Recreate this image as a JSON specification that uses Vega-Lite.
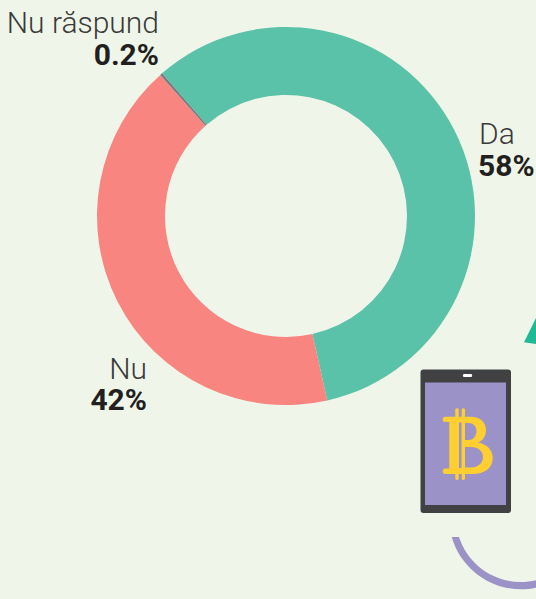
{"$schema":"https://vega.github.io/schema/vega-lite/v6.json","width":378,"height":378,"autosize":"none","padding":{"left":97,"top":27,"right":61,"bottom":194},"background":"#EFF6E9","config":{"view":{"stroke":null}},"data":{"values":[{"answer":"Da","value":58,"rank":1,"share":"58%"},{"answer":"Nu","value":42,"rank":2,"share":"42%"},{"answer":"Nu răspund","value":0.2,"rank":3,"share":"0.2%"}]},"layer":[{"mark":{"type":"arc","innerRadius":121,"outerRadius":189},"encoding":{"theta":{"field":"value","type":"quantitative","stack":true,"scale":{"range":[-0.7156,5.5676]}},"order":{"field":"rank","type":"quantitative"},"color":{"field":"answer","type":"nominal","legend":null,"scale":{"domain":["Da","Nu","Nu răspund"],"range":["#5AC2A8","#F98581","#7A7A80"]}}}},{"transform":[{"filter":"datum.rank==1"}],"mark":{"type":"text","font":"Roboto","fontWeight":300,"fontSize":30,"align":"left","baseline":"alphabetic","dx":193,"dy":-72,"fill":"#3A3A3A"},"encoding":{"text":{"field":"answer"}}},{"transform":[{"filter":"datum.rank==1"}],"mark":{"type":"text","font":"Roboto","fontWeight":700,"fontSize":30,"align":"left","baseline":"alphabetic","dx":192,"dy":-40,"fill":"#231F20"},"encoding":{"text":{"field":"share"}}},{"transform":[{"filter":"datum.rank==2"}],"mark":{"type":"text","font":"Roboto","fontWeight":300,"fontSize":30,"align":"right","baseline":"alphabetic","dx":-139,"dy":163,"fill":"#3A3A3A"},"encoding":{"text":{"field":"answer"}}},{"transform":[{"filter":"datum.rank==2"}],"mark":{"type":"text","font":"Roboto","fontWeight":700,"fontSize":30,"align":"right","baseline":"alphabetic","dx":-139,"dy":194,"fill":"#231F20"},"encoding":{"text":{"field":"share"}}},{"transform":[{"filter":"datum.rank==3"}],"mark":{"type":"text","font":"Roboto","fontWeight":300,"fontSize":30,"align":"right","baseline":"alphabetic","dx":-127,"dy":-183,"fill":"#3A3A3A"},"encoding":{"text":{"field":"answer"}}},{"transform":[{"filter":"datum.rank==3"}],"mark":{"type":"text","font":"Roboto","fontWeight":700,"fontSize":30,"align":"right","baseline":"alphabetic","dx":-127,"dy":-151,"fill":"#231F20"},"encoding":{"text":{"field":"share"}}},{"transform":[{"filter":"datum.rank==1"}],"mark":{"type":"point","filled":true,"opacity":1,"size":4,"strokeWidth":0,"fill":"#414042","shape":"M137.5,153.5 L222,153.5 Q225,153.5 225,156.5 L225,294 Q225,297 222,297 L137.5,297 Q134.5,297 134.5,294 L134.5,156.5 Q134.5,153.5 137.5,153.5 Z"}},{"transform":[{"filter":"datum.rank==1"}],"mark":{"type":"point","filled":true,"opacity":1,"size":4,"strokeWidth":0,"fill":"#9B93C7","shape":"M139,166.5 L220,166.5 L220,289 L139,289 Z"}},{"transform":[{"filter":"datum.rank==1"}],"mark":{"type":"point","filled":true,"opacity":1,"size":4,"strokeWidth":0,"fill":"#FFFFFF","shape":"M177.5,158 L185.5,158 Q187,159.5 185.5,161 L177.5,161 Q176,159.5 177.5,158 Z"}},{"transform":[{"filter":"datum.rank==1"}],"mark":{"type":"point","filled":true,"opacity":1,"size":4,"strokeWidth":0,"fill":"#FFCE31","shape":"M156.7,203.5 Q156.7,200.7 159.5,200.7 L169.3,200.7 L169.3,193 Q171,191.5 172.7,193 L172.7,200.7 L175.7,200.7 L175.7,193 Q177.3,191.5 179,193 L179,200.7 L184,200.7 C195,200.7 200,207 200,214 C200,220 197,224.5 192,226.5 C201,228 206.7,234 206.7,242 C206.7,252 199,258 186,258 L179,258 L179,263 Q177.3,265 175.7,263 L175.7,258 L172.7,258 L172.7,263 Q171,265 169.3,263 L169.3,258 L159.5,258 Q156.7,258 156.7,255 Q156.7,252.5 159.5,252.5 L163.3,252.5 L163.3,206 L159.5,206 Q156.7,206 156.7,203.5 Z M173,206.5 L173,252 L175.5,252 L175.5,206.5 Z M179,207 L179,224 L183,224 C188,224 190.5,219 190.5,215 C190.5,210.5 187,207 183,207 Z M179,231 L179,251.5 L185,251.5 C192,251.5 197,247 197,241 C197,235 192,231 185,231 Z"}},{"transform":[{"filter":"datum.rank==1"}],"mark":{"type":"point","filled":true,"opacity":1,"size":4,"strokeWidth":0,"fill":"#20B995","shape":"M238,126.3 L250,102 L250,128 Z"}},{"transform":[{"filter":"datum.rank==1"}],"mark":{"type":"point","filled":true,"opacity":1,"size":4,"strokeWidth":0,"fill":"#9B93C7","shape":"M165.7,321 A72.4,72.4 0 0 0 250,371.8 L250,364.2 A65,65 0 0 1 173,321 Z"}}]}
